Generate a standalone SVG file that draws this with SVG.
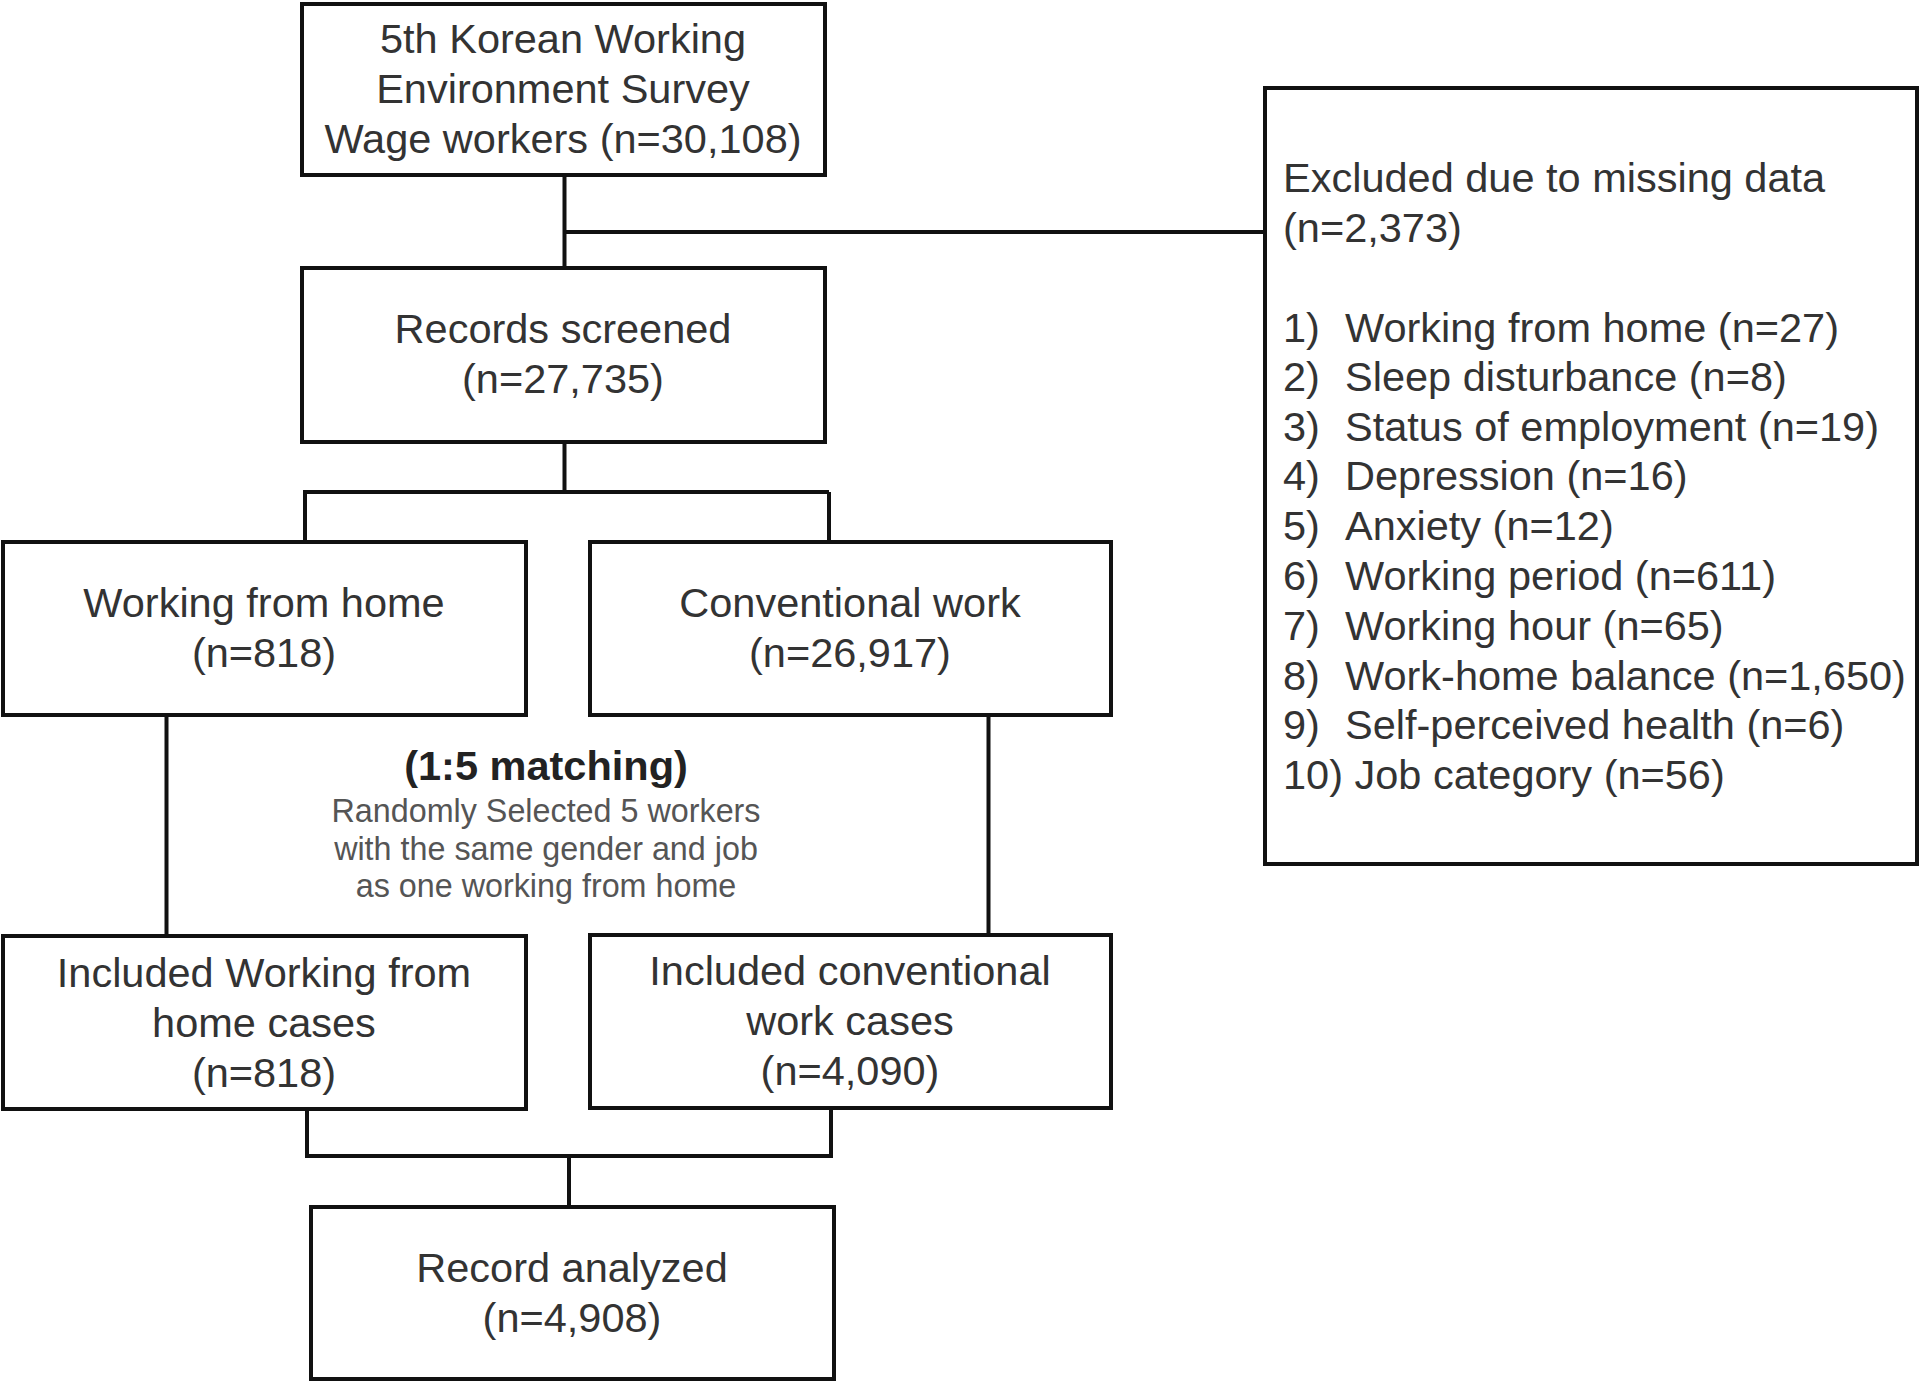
<svg xmlns="http://www.w3.org/2000/svg" width="1920" height="1383" viewBox="0 0 1920 1383">
<style>
.box{fill:#fff;stroke:#111;stroke-width:4}
.ln{fill:none;stroke:#111;stroke-width:4}
.t{font-family:"Liberation Sans",Arial,sans-serif;font-size:41.5px;fill:#333}
.c{text-anchor:middle}
.b{font-weight:bold;fill:#222}
.s{font-size:32.3px;fill:#555}
</style>
<rect width="1920" height="1383" fill="#fff"/>
<g id="connectors">
<path class="ln" d="M564.5 175V268M564.5 232H1265"/>
<path class="ln" d="M564.5 442V492M303 492H829M305 492V542M829 492V542"/>
<path class="ln" d="M166.5 715V936M988.5 715V935"/>
<path class="ln" d="M307 1109V1156M831 1108V1156M305 1156H833M569 1156V1207"/>
</g>
<g id="survey">
<rect class="box" x="302" y="4" width="523" height="171"/>
<text class="t c" x="563" y="53">5th Korean Working</text>
<text class="t c" x="563" y="103">Environment Survey</text>
<text class="t c" x="563" y="153">Wage workers (n=30,108)</text>
</g>
<g id="excluded">
<rect class="box" x="1265" y="88" width="652" height="776"/>
<text class="t" x="1283" y="192">Excluded due to missing data</text>
<text class="t" x="1283" y="242">(n=2,373)</text>
<text class="t" x="1283" y="342">1)<tspan x="1345">Working from home (n=27)</tspan></text>
<text class="t" x="1283" y="391">2)<tspan x="1345">Sleep disturbance (n=8)</tspan></text>
<text class="t" x="1283" y="441">3)<tspan x="1345">Status of employment (n=19)</tspan></text>
<text class="t" x="1283" y="490">4)<tspan x="1345">Depression (n=16)</tspan></text>
<text class="t" x="1283" y="540">5)<tspan x="1345">Anxiety (n=12)</tspan></text>
<text class="t" x="1283" y="590">6)<tspan x="1345">Working period (n=611)</tspan></text>
<text class="t" x="1283" y="640">7)<tspan x="1345">Working hour (n=65)</tspan></text>
<text class="t" x="1283" y="690">8)<tspan x="1345">Work-home balance (n=1,650)</tspan></text>
<text class="t" x="1283" y="739">9)<tspan x="1345">Self-perceived health (n=6)</tspan></text>
<text class="t" x="1283" y="789">10) Job category (n=56)</text>
</g>
<g id="screened">
<rect class="box" x="302" y="268" width="523" height="174"/>
<text class="t c" x="563" y="343">Records screened</text>
<text class="t c" x="563" y="393">(n=27,735)</text>
</g>
<g id="wfh">
<rect class="box" x="3" y="542" width="523" height="173"/>
<text class="t c" x="264" y="617">Working from home</text>
<text class="t c" x="264" y="667">(n=818)</text>
</g>
<g id="conventional">
<rect class="box" x="590" y="542" width="521" height="173"/>
<text class="t c" x="850" y="617">Conventional work</text>
<text class="t c" x="850" y="667">(n=26,917)</text>
</g>
<g id="matching">
<text class="t c b" x="546" y="780">(1:5 matching)</text>
<text class="t c s" x="546" y="822">Randomly Selected 5 workers</text>
<text class="t c s" x="546" y="860">with the same gender and job</text>
<text class="t c s" x="546" y="897">as one working from home</text>
</g>
<g id="incl-wfh">
<rect class="box" x="3" y="936" width="523" height="173"/>
<text class="t c" x="264" y="987">Included Working from</text>
<text class="t c" x="264" y="1037">home cases</text>
<text class="t c" x="264" y="1087">(n=818)</text>
</g>
<g id="incl-conv">
<rect class="box" x="590" y="935" width="521" height="173"/>
<text class="t c" x="850" y="985">Included conventional</text>
<text class="t c" x="850" y="1035">work cases</text>
<text class="t c" x="850" y="1085">(n=4,090)</text>
</g>
<g id="analyzed">
<rect class="box" x="311" y="1207" width="523" height="172"/>
<text class="t c" x="572" y="1282">Record analyzed</text>
<text class="t c" x="572" y="1332">(n=4,908)</text>
</g>
</svg>
